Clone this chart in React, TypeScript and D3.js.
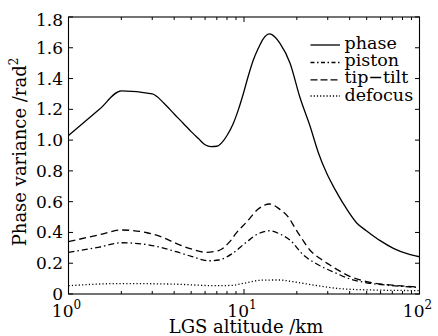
import React from "react";
import * as d3 from "d3";

const phaseAlt = [1, 1.5, 2, 3, 3.5, 4, 4.5, 5, 5.5, 6, 6.5, 7, 7.5, 8, 8.7, 9.3, 9.9, 10.6, 11.3, 12.1, 12.9, 14, 15, 16, 18.3, 20.8, 23.8, 26.5, 29.6, 33, 36.7, 44, 50, 60, 71, 85, 100];
const phaseVal = [1.03, 1.2, 1.32, 1.3, 1.24, 1.17, 1.11, 1.055, 1.01, 0.97, 0.958, 0.96, 0.985, 1.03, 1.11, 1.2, 1.3, 1.42, 1.52, 1.6, 1.66, 1.69, 1.67, 1.63, 1.5, 1.28, 1.09, 0.92, 0.784, 0.68, 0.589, 0.46, 0.41, 0.345, 0.297, 0.262, 0.242];

const tiltAlt = [1, 1.5, 2, 2.8, 3.5, 4.1, 5, 6.1, 7.1, 8.3, 9, 10.4, 12, 14, 16, 17.9, 19.5, 21.3, 23.7, 27, 30.9, 35, 40, 50, 70, 100];
const tiltVal = [0.34, 0.385, 0.416, 0.398, 0.365, 0.329, 0.293, 0.271, 0.281, 0.34, 0.394, 0.47, 0.55, 0.585, 0.55, 0.5, 0.43, 0.362, 0.286, 0.232, 0.188, 0.15, 0.115, 0.08, 0.058, 0.045];

const pistonAlt = [1, 1.5, 2, 2.9, 4.1, 5, 6.3, 7.2, 8.6, 10.4, 12, 14, 16, 18.3, 21.8, 26, 33.7, 40, 50, 70, 100];
const pistonVal = [0.271, 0.305, 0.333, 0.318, 0.275, 0.245, 0.216, 0.221, 0.264, 0.34, 0.39, 0.411, 0.39, 0.35, 0.253, 0.195, 0.134, 0.098, 0.073, 0.055, 0.042];

const defocusAlt = [1, 2, 4, 7, 8.5, 10, 12.7, 15.8, 19, 24.9, 33.7, 50, 100];
const defocusVal = [0.054, 0.068, 0.064, 0.054, 0.056, 0.07, 0.09, 0.091, 0.08, 0.058, 0.037, 0.027, 0.022];

const yTicks = [0, 0.2, 0.4, 0.6, 0.8, 1.0, 1.2, 1.4, 1.6, 1.8];
const yTickLabels = ["0", "0.2", "0.4", "0.6", "0.8", "1.0", "1.2", "1.4", "1.6", "1.8"];
const xMajor = [1, 10, 100];
const xMajorExp = ["0", "1", "2"];
const xMinor = [2, 3, 4, 5, 6, 7, 8, 9, 20, 30, 40, 50, 60, 70, 80, 90];

const seriesNames = ["phase", "piston", "tip\u2212tilt", "defocus"];

const W = 438, H = 336;
const L = 68.5, R = 419.5, T = 17, B = 294;
const FONT = "'DejaVu Serif', serif";

export default function App() {
  const x = d3.scaleLog().domain([1, 100]).range([L, R]);
  const y = d3.scaleLinear().domain([0, 1.8]).range([B, T]);
  const line = (alt: number[], val: number[]) =>
    d3.line<number>().x((_, i) => x(alt[i])).y((v) => y(v)).curve(d3.curveMonotoneX)(val) || "";

  const styles = [
    { d: line(phaseAlt, phaseVal), dash: "none", legDash: "none" },
    { d: line(pistonAlt, pistonVal), dash: "6,3,1.5,3", legDash: "4,2.5,1.5,2.5" },
    { d: line(tiltAlt, tiltVal), dash: "7,4", legDash: "7,3" },
    { d: line(defocusAlt, defocusVal), dash: "1.2,2.2", legDash: "1.2,2" },
  ];

  const legY = [45, 62.5, 79.8, 96];
  const legText = [48.5, 66, 83.3, 100.5];

  return (
    <svg width={W} height={H} style={{ position: "absolute", left: 0, top: 0, background: "#fff", fontFamily: FONT }} fontFamily={FONT}>
      <rect x={0} y={0} width={W} height={H} fill="#fff" />
      {styles.map((s, i) => (
        <path key={i} d={s.d} fill="none" stroke="#000" strokeWidth={1.3} strokeDasharray={s.dash} />
      ))}
      <rect x={L} y={T} width={R - L} height={B - T} fill="none" stroke="#000" strokeWidth={1.1} />
      {yTicks.map((t, i) => (
        <g key={"y" + i}>
          <line x1={L} x2={L + 4.5} y1={y(t)} y2={y(t)} stroke="#000" strokeWidth={1} />
          <line x1={R} x2={R - 4.5} y1={y(t)} y2={y(t)} stroke="#000" strokeWidth={1} />
          <text x={63} y={y(t) + (i === yTicks.length - 1 ? 9 : 6)} fontSize={17} textAnchor="end">{yTickLabels[i]}</text>
        </g>
      ))}
      {xMajor.map((t, i) => (
        <g key={"xM" + i}>
          <line x1={x(t)} x2={x(t)} y1={B} y2={B - 5} stroke="#000" strokeWidth={1} />
          <line x1={x(t)} x2={x(t)} y1={T} y2={T + 5} stroke="#000" strokeWidth={1} />
          <text x={x(t) - 2} y={316.5} fontSize={17} textAnchor="middle">
            10<tspan fontSize={12} dy={-8}>{xMajorExp[i]}</tspan>
          </text>
        </g>
      ))}
      {xMinor.map((t, i) => (
        <g key={"xm" + i}>
          <line x1={x(t)} x2={x(t)} y1={B} y2={B - 3} stroke="#000" strokeWidth={1} />
          <line x1={x(t)} x2={x(t)} y1={T} y2={T + 3} stroke="#000" strokeWidth={1} />
        </g>
      ))}
      <text x={(L + R) / 2 + 2} y={333} fontSize={18} textAnchor="middle">LGS altitude /km</text>
      <text transform={`translate(26,152) rotate(-90)`} fontSize={18} textAnchor="middle">
        Phase variance /rad<tspan fontSize={12} dy={-8}>2</tspan>
      </text>
      {styles.map((s, i) => (
        <g key={"leg" + i}>
          <line x1={310.5} x2={340} y1={legY[i]} y2={legY[i]} stroke="#000" strokeWidth={1.3} strokeDasharray={s.legDash} />
          <text x={344.5} y={legText[i]} fontSize={17.5}>{seriesNames[i]}</text>
        </g>
      ))}
    </svg>
  );
}
